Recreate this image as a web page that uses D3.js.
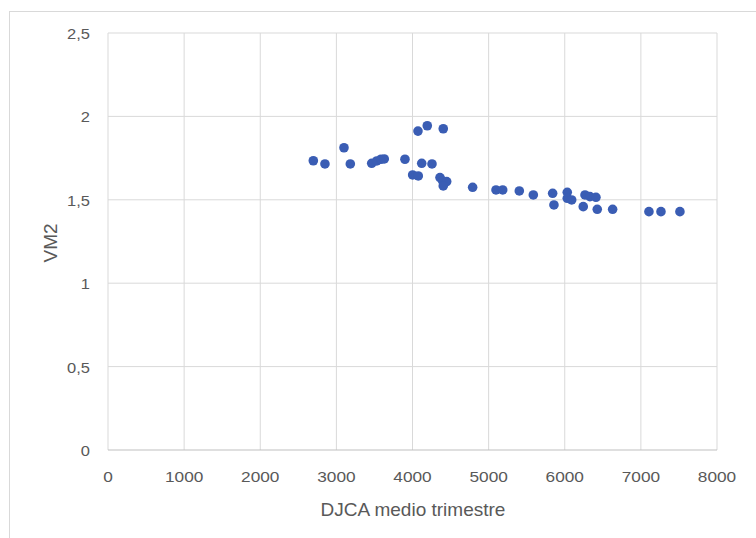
<!DOCTYPE html>
<html><head><meta charset="utf-8">
<script src="https://cdn.jsdelivr.net/npm/d3@7"></script>
<style>body{margin:0;background:#fff;}svg{display:block;}</style>
</head><body>
<svg id="chart" width="756" height="538"></svg>
<script>
const djca = [2697,2850,3100,3183,3464,3530,3586,3629,3901,4072,4194,4404,4121,4256,4002,4076,4361,4396,4449,4404,4790,5097,5185,5403,5587,5841,5858,6033,6033,6091,6266,6331,6410,6243,6427,6629,7106,7264,7513];
const vm2  = [1.734,1.715,1.812,1.715,1.719,1.733,1.743,1.745,1.743,1.912,1.944,1.926,1.719,1.715,1.649,1.643,1.633,1.613,1.609,1.583,1.575,1.559,1.559,1.553,1.529,1.539,1.469,1.545,1.509,1.499,1.529,1.519,1.515,1.459,1.443,1.443,1.429,1.429,1.429];
const xTicks = [0,1000,2000,3000,4000,5000,6000,7000,8000];
const yTicks = [0,0.5,1,1.5,2,2.5];
const xTitle = "DJCA medio trimestre";
const yTitle = "VM2";

const svg = d3.select("#chart");
const font = "'Liberation Sans', Arial, sans-serif";
svg.append("rect").attr("x",9.5).attr("y",11.5).attr("width",760).attr("height",540)
  .attr("fill","#fff").attr("stroke","#d9d9d9").attr("stroke-width",1);

const x = d3.scaleLinear().domain([0,8000]).range([108,717]);
const y = d3.scaleLinear().domain([0,2.5]).range([450,33]);
const fmt = d => d3.format(".1f")(d).replace(/\.0$/,"").replace(".",",");

const g = svg.append("g");
g.selectAll(".vg").data(xTicks).join("line")
  .attr("x1",d=>x(d)).attr("x2",d=>x(d)).attr("y1",y(0)).attr("y2",y(2.5))
  .attr("stroke","#d9d9d9").attr("stroke-width",1);
g.selectAll(".hg").data(yTicks).join("line")
  .attr("x1",x(0)).attr("x2",x(8000)).attr("y1",d=>y(d)).attr("y2",d=>y(d))
  .attr("stroke",d=>d===0?"#bfbfbf":"#d9d9d9").attr("stroke-width",1);

g.selectAll(".xt").data(xTicks).join("text")
  .attr("transform",d=>`translate(${x(d)},482) scale(1.15,1)`).attr("text-anchor","middle")
  .attr("font-family",font).attr("font-size",15).attr("fill","#595959").text(d=>d);
g.selectAll(".yt").data(yTicks).join("text")
  .attr("transform",d=>`translate(90,${y(d)+6}) scale(1.1,1)`).attr("text-anchor","end")
  .attr("font-family",font).attr("font-size",15).attr("fill","#595959").text(fmt);

svg.append("text").attr("x",413).attr("y",516).attr("text-anchor","middle")
  .attr("font-family",font).attr("font-size",19).attr("fill","#595959").text(xTitle);
svg.append("text").attr("transform","translate(57,243) rotate(-90)").attr("text-anchor","middle")
  .attr("font-family",font).attr("font-size",19).attr("fill","#595959").text(yTitle);

svg.append("g").selectAll("circle").data(djca.map((d,i)=>[d,vm2[i]])).join("circle")
  .attr("cx",d=>x(d[0])).attr("cy",d=>y(d[1])).attr("r",4.8).attr("fill","#3A5DB4");
</script>
</body></html>
